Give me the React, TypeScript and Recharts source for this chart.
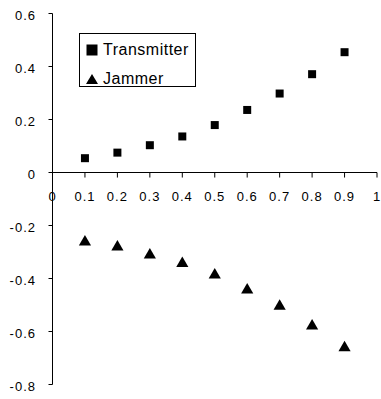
import React from 'react';
import { ScatterChart, Scatter, XAxis, YAxis, ReferenceLine, Legend } from 'recharts';

const xValues = [0.1, 0.2, 0.3, 0.4, 0.5, 0.6, 0.7, 0.8, 0.9];
const transmitter = [0.054, 0.075, 0.103, 0.136, 0.179, 0.236, 0.298, 0.371, 0.454];
const jammer = [-0.262, -0.281, -0.311, -0.343, -0.387, -0.443, -0.505, -0.579, -0.661];
const xTicks = [0, 0.1, 0.2, 0.3, 0.4, 0.5, 0.6, 0.7, 0.8, 0.9, 1];
const yTicks = [-0.8, -0.6, -0.4, -0.2, 0, 0.2, 0.4, 0.6];
const seriesNames = ['Transmitter', 'Jammer'];

const transmitterData = xValues.map((x, i) => ({ x, y: transmitter[i] }));
const jammerData = xValues.map((x, i) => ({ x, y: jammer[i] }));

const font = '"Liberation Sans", Arial, sans-serif';
const fmt = (v: number) => (v === 0 ? '0' : String(v));
// tick mark length below the zero line, in y units (about 5px)
const tickLen = 0.019;

const YTick = (props: any) => {
  const { x, y, payload } = props;
  return (
    <text x={x} y={y} dy={6.5} textAnchor="end" fontSize={13} fontFamily={font} letterSpacing={1} fill="#000">
      {fmt(payload.value)}
    </text>
  );
};

const LegendBox = (props: any) => {
  const items = [...(props.payload || [])].sort(
    (a: any, b: any) => seriesNames.indexOf(a.value) - seriesNames.indexOf(b.value)
  );
  return (
    <div
      style={{
        position: 'relative',
        width: 115,
        height: 52,
        border: '1px solid #000',
        background: '#fff',
        fontFamily: font,
        fontSize: 16,
        letterSpacing: 0.5,
        color: '#000',
      }}
    >
      {items.map((entry: any, index: number) => (
        <div
          key={`item-${index}`}
          style={{ position: 'absolute', left: 6, top: index === 0 ? 5.5 : 34.5, height: 20, lineHeight: '20px', whiteSpace: 'nowrap' }}
        >
          <svg width={12} height={12} style={{ position: 'absolute', left: 0, top: 4 }}>
            {entry.type === 'triangle' ? (
              <polygon points="6,1 12,11 0,11" fill="#000" />
            ) : (
              <rect x={0.5} y={0.5} width={11} height={11} fill="#000" />
            )}
          </svg>
          <span style={{ position: 'absolute', left: 17, top: 0 }}>{entry.value}</span>
        </div>
      ))}
    </div>
  );
};

export default function App() {
  return (
    <div style={{ position: 'absolute', left: 0, top: 0, background: '#fff' }}>
      <ScatterChart width={381} height={399} margin={{ top: 13.5, right: 4, left: 8, bottom: 14.5 }}>
        <XAxis type="number" dataKey="x" domain={[0, 1]} ticks={xTicks} hide />
        <YAxis
          type="number"
          dataKey="y"
          domain={[-0.8, 0.6]}
          ticks={yTicks}
          width={44.5}
          tickSize={4}
          tickMargin={12.5}
          tick={<YTick />}
          axisLine={{ stroke: '#000' }}
          tickLine={{ stroke: '#000' }}
          interval={0}
        />
        <ReferenceLine y={0} stroke="#000" ifOverflow="extendDomain" />
        {xTicks.map((t) => (
          <ReferenceLine
            key={`xt-${t}`}
            segment={[
              { x: t, y: 0 },
              { x: t, y: -tickLen },
            ]}
            stroke="#000"
            label={{ value: fmt(t), position: 'bottom', offset: 14, fontSize: 13, fill: '#000', fontFamily: font, letterSpacing: 1 }}
          />
        ))}
        <Legend
          layout="vertical"
          align="center"
          verticalAlign="middle"
          width={117}
          content={<LegendBox />}
          wrapperStyle={{ position: 'absolute', left: 79, top: 33, width: 117, height: 54 }}
        />
        <Scatter
          name="Transmitter"
          data={transmitterData}
          fill="#000"
          shape="square"
          legendType="square"
          size={144}
          isAnimationActive={false}
        />
        <Scatter
          name="Jammer"
          data={jammerData}
          fill="#000"
          shape="triangle"
          legendType="triangle"
          size={85}
          isAnimationActive={false}
        />
      </ScatterChart>
    </div>
  );
}
